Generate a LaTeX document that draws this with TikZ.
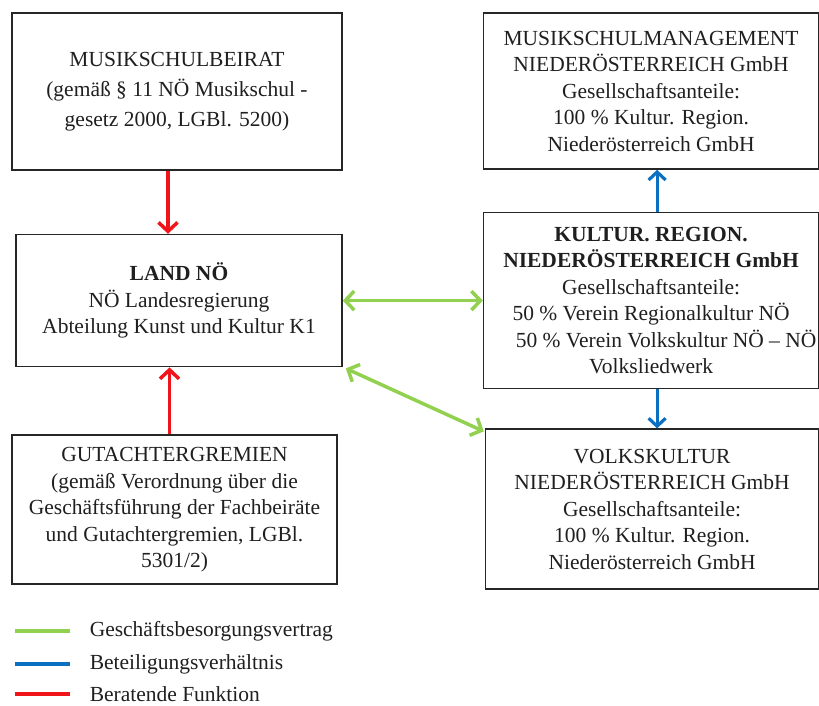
\documentclass[tikz,border=0pt]{standalone}
\usepackage{fontspec}
\setmainfont{Liberation Serif}
\usetikzlibrary{arrows.meta}
\usetikzlibrary{calc}
\usetikzlibrary{positioning}
\definecolor{vertraggreen}{HTML}{92D050}
\definecolor{beteilblue}{HTML}{0B6FC2}
\definecolor{beratred}{HTML}{F0141B}

\begin{document}
\begin{tikzpicture}[x=1pt, y=-1pt,
    org/.style={draw=black!85, line width=1.6pt, align=center, inner sep=0pt,
        font=\fontsize{21.5}{26.5}\selectfont, text=black!88},
    legtext/.style={anchor=west, inner sep=0pt, font=\fontsize{21.5}{26.5}\selectfont, text=black!88},
    vertrag/.style={draw=vertraggreen, line width=3.5pt,
        {Straight Barb[length=9pt,width=19pt]}-{Straight Barb[length=9pt,width=19pt]}},
    beteil/.style={draw=beteilblue, line width=3.2pt, -{Straight Barb[length=8pt,width=17pt]}},
    beraten/.style={draw=beratred, line width=3.5pt, -{Straight Barb[length=9pt,width=19pt]}}]
        \useasboundingbox (0,0) rectangle (819,705);

        \node[org, minimum width=330pt, minimum height=157pt] (beirat) at (177,91.5)
            {MUSIKSCHULBEIRAT\\[3.5pt](gemäß § 11 NÖ Musikschul -\\[3.5pt]gesetz 2000, LGBl. 5200)};
        \node[org, minimum width=326pt, minimum height=132pt, below=63pt of beirat.south east, anchor=north east] (land)
            {\textbf{LAND NÖ}\\NÖ Landesregierung\\Abteilung Kunst und Kultur K1};
        \node[org, minimum width=325pt, minimum height=149pt, below=67pt of land.south west, anchor=north west, xshift=-4pt] (gutachter)
            {GUTACHTERGREMIEN\\(gemäß Verordnung über die\\Geschäftsführung der Fachbeiräte\\und Gutachtergremien, LGBl.\\5301/2)};

        \node[org, minimum width=335pt, minimum height=176pt, right=140pt of land] (kultur)
            {\textbf{KULTUR. REGION.}\\\textbf{NIEDERÖSTERREICH GmbH}\\Gesellschaftsanteile:\\50 \% Verein Regionalkultur NÖ\\\hspace*{30pt}50 \% Verein Volkskultur NÖ – NÖ\\Volksliedwerk};
        \node[org, minimum width=335pt, minimum height=156pt, above=42pt of kultur] (management)
            {MUSIKSCHULMANAGEMENT\\NIEDERÖSTERREICH GmbH\\Gesellschaftsanteile:\\100 \% Kultur. Region.\\Niederösterreich GmbH};
        \node[org, minimum width=333pt, minimum height=160pt, below=39pt of kultur.south east, anchor=north east] (volks)
            {VOLKSKULTUR\\NIEDERÖSTERREICH GmbH\\Gesellschaftsanteile:\\100 \% Kultur. Region.\\Niederösterreich GmbH};

        % connectors
        \draw[beraten] ([xshift=-11pt]land.north |- beirat.south) -- ([xshift=-11pt]land.north);
        \draw[beraten] ([xshift=-5pt]gutachter.north) -- ([xshift=-5pt]gutachter.north |- land.south);
        \draw[beteil] ([xshift=6pt]kultur.north) -- ([xshift=6pt]management.south);
        \draw[beteil] ([xshift=6pt]kultur.south) -- ([xshift=6pt]kultur.south |- volks.north);
        \draw[vertrag] (land.east) -- (kultur.west);
        \draw[vertrag] ([shift={(3pt,-1pt)}]land.south east) -- ([shift={(-1pt,-3pt)}]volks.north west);

        % legend
        \coordinate (lg1) at (15,631);
        \coordinate (lg2) at (15,664);
        \coordinate (lg3) at (15,694);
        \draw[vertraggreen, line width=3.5pt] (lg1) -- ++(55,0) node[legtext, right=18pt] (lgvertrag) {Geschäftsbesorgungsvertrag};
        \draw[beteilblue, line width=3.5pt] (lg2) -- ++(55,0) node[legtext, right=18pt] (lgbeteil) {Beteiligungsverhältnis};
        \draw[beratred, line width=3.5pt] (lg3) -- ++(55,0) node[legtext, right=18pt] (lgberat) {Beratende Funktion};
    \end{tikzpicture}
\end{document}
